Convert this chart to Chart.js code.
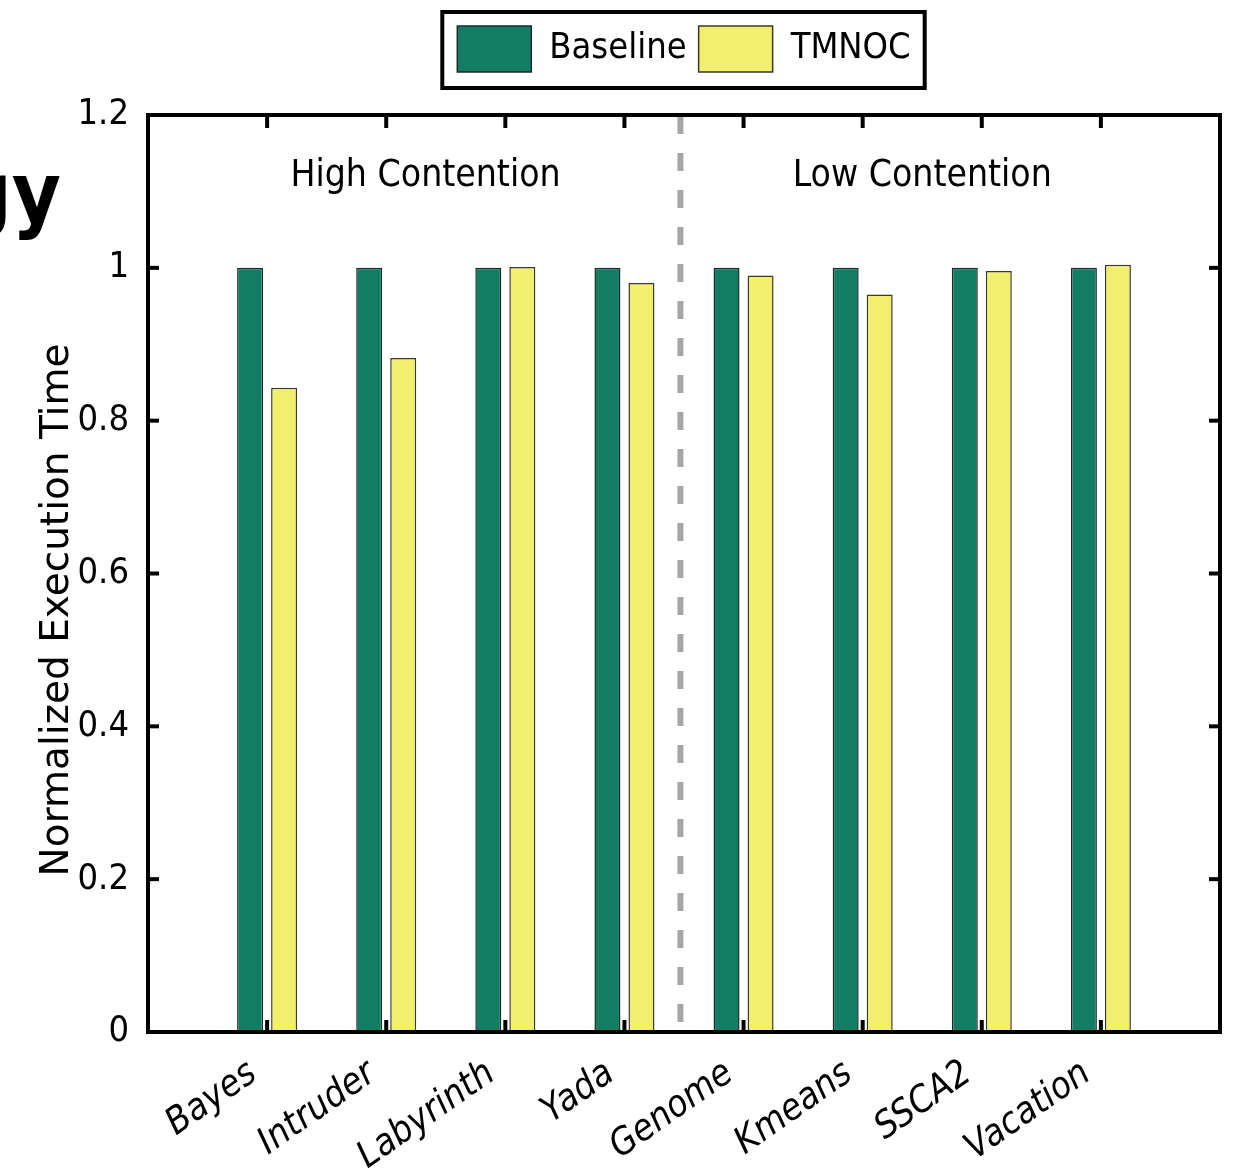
<!DOCTYPE html>
<html>
<head>
<meta charset="utf-8">
<script src="https://cdn.jsdelivr.net/npm/chart.js@4.4.1/dist/chart.umd.min.js"></script>
<style>
html, body { margin: 0; padding: 0; background: #fff; }
</style>
</head>
<body>
<canvas id="chart" width="1254" height="1174"></canvas>
<script>
var categories = ['Bayes', 'Intruder', 'Labyrinth', 'Yada', 'Genome', 'Kmeans', 'SSCA2', 'Vacation'];
var baseline = [1, 1, 1, 1, 1, 1, 1, 1];
var tmnoc = [0.843, 0.882, 1.001, 0.980, 0.990, 0.965, 0.996, 1.004];
var yTicks = [0, 0.2, 0.4, 0.6, 0.8, 1, 1.2];
var groupLabels = ['High Contention', 'Low Contention'];
var groupLabelAt = [2.33, 6.5];
var dividerAt = 4.47;

var narrow = "'DejaVu Sans Condensed', 'DejaVu Sans', sans-serif";

function points(vals) {
    return vals.map(function (v, i) { return { x: i + 1, y: v }; });
}

var decorations = {
    id: 'decorations',
    afterDatasetsDraw: function (chart) {
        var ctx = chart.ctx, a = chart.chartArea;
        var x = chart.scales.x, y = chart.scales.y;
        ctx.save();

        // dashed divider between the two groups
        var dx = x.getPixelForValue(dividerAt);
        ctx.strokeStyle = '#a6a6a6';
        ctx.lineWidth = 6;
        ctx.setLineDash([18, 19]);
        ctx.beginPath();
        ctx.moveTo(dx, a.top + 1);
        ctx.lineTo(dx, a.bottom - 5);
        ctx.stroke();
        ctx.setLineDash([]);

        // group titles
        ctx.fillStyle = '#000';
        ctx.font = '37px ' + narrow;
        ctx.textAlign = 'center';
        ctx.textBaseline = 'middle';
        groupLabels.forEach(function (t, i) {
            ctx.fillText(t, x.getPixelForValue(groupLabelAt[i]), y.getPixelForValue(1.12));
        });

        // inward tick marks, matlab style
        ctx.strokeStyle = '#000';
        ctx.lineWidth = 4;
        function seg(x1, y1, x2, y2) {
            ctx.beginPath(); ctx.moveTo(x1, y1); ctx.lineTo(x2, y2); ctx.stroke();
        }
        y.ticks.forEach(function (t) {
            if (t.value <= 0 || t.value >= 1.2) return;
            var py = y.getPixelForValue(t.value);
            seg(a.left, py, a.left + 11, py);
            seg(a.right, py, a.right - 11, py);
        });
        x.ticks.forEach(function (t) {
            var px = x.getPixelForValue(t.value);
            seg(px, a.top, px, a.top + 13);
            seg(px, a.bottom, px, a.bottom - 12);
        });

        // axes box
        ctx.lineWidth = 4;
        ctx.strokeRect(a.left, a.top, a.right - a.left, a.bottom - a.top);
        ctx.restore();
    },
    afterDraw: function (chart) {
        var ctx = chart.ctx;
        ctx.save();

        // box round the legend
        var hb = chart.legend.legendHitBoxes;
        if (hb && hb.length) {
            var last = hb[hb.length - 1];
            var l = hb[0].left - 15, r = last.left + last.width + 14;
            ctx.strokeStyle = '#000';
            ctx.lineWidth = 4;
            ctx.strokeRect(l, 12, r - l, 76);
        }

        // y axis title
        ctx.fillStyle = '#000';
        ctx.font = '39px "DejaVu Sans", sans-serif';
        ctx.textAlign = 'center';
        ctx.textBaseline = 'middle';
        ctx.translate(58, 610);
        ctx.rotate(-Math.PI / 2);
        ctx.fillText('Normalized Execution Time', 0, 0);
        ctx.restore();

        // cut-off slide title at the left edge
        ctx.save();
        ctx.fillStyle = '#000';
        ctx.font = 'bold 84px ' + narrow;
        ctx.textAlign = 'right';
        ctx.textBaseline = 'alphabetic';
        ctx.fillText('gy', 61, 222);
        ctx.restore();
    }
};

var ctx = document.getElementById('chart').getContext('2d');
var chart = new Chart(ctx, {
    type: 'bar',
    data: {
        datasets: [{
            label: 'Baseline',
            data: points(baseline),
            backgroundColor: '#137d63',
            borderColor: '#1e2a25',
            borderWidth: 1.5
        }, {
            label: 'TMNOC',
            data: points(tmnoc),
            backgroundColor: '#f2ee6e',
            borderColor: '#3a3a2a',
            borderWidth: 1.5
        }]
    },
    options: {
        responsive: false,
        animation: false,
        devicePixelRatio: 1,
        categoryPercentage: 0.571,
        barPercentage: 0.765,
        layout: { padding: { left: 70, right: 0, top: 14, bottom: 0 } },
        plugins: {
            legend: {
                position: 'top',
                fullSize: false,
                labels: {
                    boxWidth: 74,
                    boxHeight: 46,
                    padding: 12,
                    color: '#000',
                    font: { size: 36, family: narrow }
                }
            },
            tooltip: { enabled: false }
        },
        scales: {
            x: {
                type: 'linear',
                min: 0,
                max: 9,
                offset: false,
                grid: { display: false, offset: false },
                border: { display: false },
                afterBuildTicks: function (s) {
                    s.ticks = categories.map(function (c, i) { return { value: i + 1 }; });
                },
                afterFit: function (s) { s.height = 142; },
                ticks: {
                    autoSkip: false,
                    minRotation: 35,
                    maxRotation: 35,
                    padding: 12,
                    labelOffset: -14,
                    color: '#000',
                    font: { size: 37, family: narrow, style: 'italic' },
                    callback: function (v) { return categories[v - 1] || ''; }
                }
            },
            x2: {
                type: 'linear',
                position: 'top',
                grid: { display: false },
                border: { display: false },
                ticks: { display: false },
                afterFit: function (s) { s.height = 33; }
            },
            y: {
                min: 0,
                max: 1.2,
                grid: { display: false },
                border: { display: false },
                afterBuildTicks: function (s) {
                    s.ticks = yTicks.map(function (v) { return { value: v }; });
                },
                afterFit: function (s) { s.width = 78; },
                ticks: {
                    padding: 11,
                    color: '#000',
                    font: { size: 36, family: narrow },
                    callback: function (v) { return String(Number(v.toFixed(1))); }
                }
            },
            y2: {
                position: 'right',
                grid: { display: false },
                border: { display: false },
                ticks: { display: false },
                afterFit: function (s) { s.width = 34; }
            }
        }
    },
    plugins: [decorations]
});
</script>
</body>
</html>
